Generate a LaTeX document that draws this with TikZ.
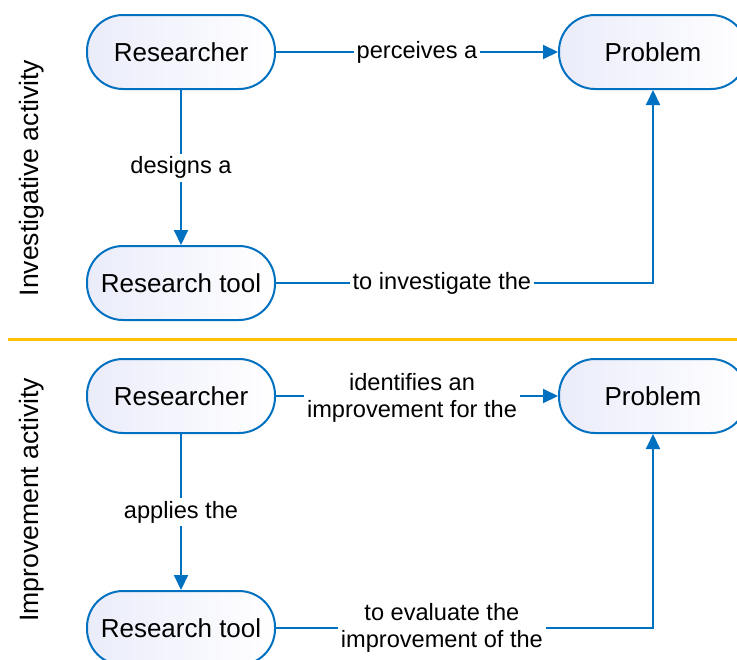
\documentclass[tikz,border=0pt]{standalone}
\usepackage{fontspec}
\setmainfont{Liberation Sans}
\usetikzlibrary{arrows.meta, positioning}
\definecolor{linkblue}{RGB}{0,112,192}
\definecolor{rulegold}{RGB}{255,192,0}
\definecolor{shadelav}{RGB}{234,236,250}

\begin{document}
\begin{tikzpicture}[x=0.5pt, y=-0.5pt, node distance=236pt, on grid]
    % Styles
    \tikzstyle{block} = [rectangle, rounded corners=18pt, draw=linkblue, line width=1pt, left color=shadelav, right color=white, minimum height=37pt, minimum width=94pt, inner xsep=4pt, font=\fontsize{13}{15}\selectfont]
    \tikzstyle{line} = [draw=linkblue, line width=1pt, -{Triangle[length=7.5pt,width=7pt]}]
    \tikzstyle{lbl} = [fill=white, inner sep=1.5pt, align=center, font=\fontsize{11.8}{13.5}\selectfont]
    \tikzstyle{side} = [rotate=90, font=\fontsize{13.3}{15}\selectfont]

    \clip (0,0) rectangle (737,659);

    % Nodes
    \node [block] (res1) at (181,52) {Researcher};
    \node [block, right=of res1] (prob1) {Problem};
    \node [block, below=115.5pt of res1] (tool1) {Research tool};
    \node [block, below=172pt of res1] (res2) {Researcher};
    \node [block, right=of res2] (prob2) {Problem};
    \node [block, below=116pt of res2] (tool2) {Research tool};

    \node [side] (invlab) at (32,178) {Investigative activity};
    \node [side] (implab) at (32,500) {Improvement activity};

    % Separator
    \draw [rulegold, line width=1.5pt] (8,339) -- (737,339);

    % Connections
    \path [line] (res1) -- node[lbl] {perceives a} (prob1);
    \path [line] (res1) -- node[lbl] {designs a} (tool1);
    \path [line] (tool1) -| node[lbl, pos=0.22] {to investigate the} (prob1);

    \path [line] (res2) -- node[lbl, xshift=-2.5pt, yshift=-1pt] {identifies an\\improvement for the} (prob2);
    \path [line] (res2) -- node[lbl] {applies the} (tool2);
    \path [line] (tool2) -| node[lbl, pos=0.22] {to evaluate the\\improvement of the} (prob2);

\end{tikzpicture}
\end{document}
